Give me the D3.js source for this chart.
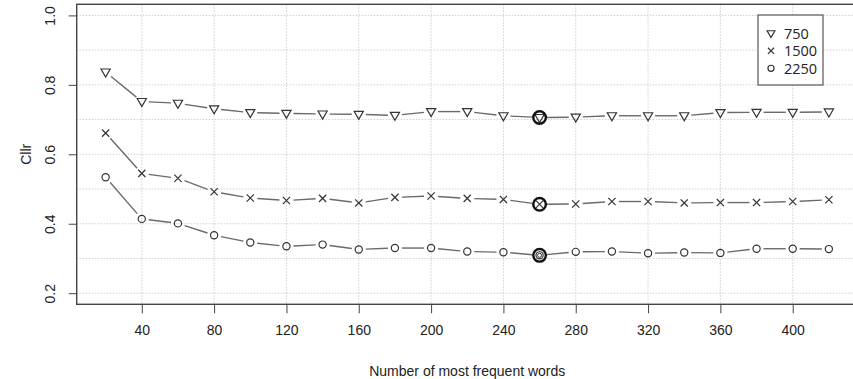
<!DOCTYPE html>
<html>
<head>
<meta charset="utf-8">
<script src="https://cdn.jsdelivr.net/npm/d3@7"></script>
<style>
  html, body { margin: 0; padding: 0; background: #fff; }
  svg { display: block; }
  text { font-family: "Liberation Sans", Arial, sans-serif; fill: #222; }
</style>
</head>
<body>
<svg id="chart" width="853" height="379"></svg>
<script>
// ---- data ----
const nWords = [20, 40, 60, 80, 100, 120, 140, 160, 180, 200, 220, 240, 260, 280, 300, 320, 340, 360, 380, 400, 420];
const s750  = [0.837, 0.752, 0.747, 0.731, 0.720, 0.718, 0.716, 0.715, 0.712, 0.723, 0.723, 0.711, 0.706, 0.707, 0.711, 0.711, 0.711, 0.720, 0.721, 0.721, 0.722];
const s1500 = [0.661, 0.545, 0.531, 0.492, 0.474, 0.467, 0.473, 0.460, 0.476, 0.480, 0.473, 0.470, 0.456, 0.457, 0.464, 0.464, 0.460, 0.461, 0.461, 0.464, 0.469];
const s2250 = [0.534, 0.414, 0.401, 0.367, 0.346, 0.335, 0.340, 0.326, 0.330, 0.330, 0.320, 0.318, 0.309, 0.319, 0.320, 0.315, 0.317, 0.316, 0.328, 0.328, 0.327];
const seriesNames = ["750", "1500", "2250"];
const seriesShapes = ["triangle", "cross", "circle"];
const highlightN = 260;
const xTicks = [40, 80, 120, 160, 200, 240, 280, 320, 360, 400];
const yTicks = [0.2, 0.4, 0.6, 0.8, 1.0];
const xGrid = [40, 80, 120, 160, 200, 240, 280, 320, 360, 400];
const yGrid = [0.2, 0.3, 0.4, 0.5, 0.6, 0.7, 0.8, 0.9, 1.0];
const xLabel = "Number of most frequent words";
const yLabel = "Cllr";

// ---- layout ----
const svg = d3.select("#chart");
const plot = { left: 76.7, right: 857.8, top: 4.3, bottom: 304.3 };
const xLim = [20, 420], yLim = [0.2, 1.0];
const ext = (l) => { const d = (l[1] - l[0]) * 0.04; return [l[0] - d, l[1] + d]; };
const x = d3.scaleLinear().domain(ext(xLim)).range([plot.left, plot.right]);
const y = d3.scaleLinear().domain(ext(yLim)).range([plot.bottom, plot.top]);

// grid
const grid = svg.append("g").attr("stroke", "#cfcfcf").attr("stroke-width", 1).attr("stroke-dasharray", "1.5,1.5");
grid.selectAll("line.v").data(xGrid).join("line")
  .attr("x1", d => x(d)).attr("x2", d => x(d)).attr("y1", plot.top).attr("y2", plot.bottom);
grid.selectAll("line.h").data(yGrid).join("line")
  .attr("y1", d => y(d)).attr("y2", d => y(d)).attr("x1", plot.left).attr("x2", plot.right);

// axes
const xAxis = svg.append("g").attr("transform", `translate(0,${plot.bottom})`)
  .call(d3.axisBottom(x).tickValues(xTicks).tickSize(9).tickPadding(12).tickFormat(d3.format("d")));
xAxis.select(".domain").remove();
xAxis.selectAll("line").attr("stroke", "#444");
xAxis.selectAll("text").style("font-size", "14px").style("font-family", "Liberation Sans, Arial, sans-serif").attr("fill", "#222");

const yAxis = svg.append("g").attr("transform", `translate(${plot.left},0)`)
  .call(d3.axisLeft(y).tickValues(yTicks).tickSize(8).tickFormat(d3.format(".1f")));
yAxis.select(".domain").remove();
yAxis.selectAll("line").attr("stroke", "#444");
yAxis.selectAll("text")
  .attr("transform", "rotate(-90)")
  .attr("x", 0).attr("y", -21.5).attr("dy", 0)
  .style("text-anchor", "middle")
  .style("font-size", "14px").style("font-family", "Liberation Sans, Arial, sans-serif").attr("fill", "#222");

// box
svg.append("rect").attr("x", plot.left).attr("y", plot.top)
  .attr("width", plot.right - plot.left).attr("height", plot.bottom - plot.top)
  .attr("fill", "none").attr("stroke", "#444").attr("stroke-width", 1.4);

// axis titles
svg.append("text").attr("x", (plot.left + plot.right) / 2).attr("y", 375.5)
  .attr("text-anchor", "middle").style("font-size", "14px").text(xLabel);
svg.append("text").attr("transform", `translate(30.5,${(plot.top + plot.bottom) / 2}) rotate(-90)`)
  .attr("text-anchor", "middle").style("font-size", "14px").text(yLabel);

// markers
function drawMarker(g, shape, cx, cy, scale = 1) {
  if (shape === "triangle") {
    const w = 4.6 * scale, h = 4.0 * scale;
    g.append("path").attr("d", `M${cx - w},${cy - h * 0.75}L${cx + w},${cy - h * 0.75}L${cx},${cy + h * 1.25}Z`)
      .attr("fill", "none").attr("stroke", "#333").attr("stroke-width", 1.2);
  } else if (shape === "cross") {
    const s = 3.6 * scale;
    g.append("path").attr("d", `M${cx - s},${cy - s}L${cx + s},${cy + s}M${cx - s},${cy + s}L${cx + s},${cy - s}`)
      .attr("fill", "none").attr("stroke", "#333").attr("stroke-width", 1.2);
  } else {
    g.append("circle").attr("cx", cx).attr("cy", cy).attr("r", 3.6 * scale)
      .attr("fill", "none").attr("stroke", "#333").attr("stroke-width", 1.2);
  }
}

const allSeries = [s750, s1500, s2250];
const gap = 7;
allSeries.forEach((vals, si) => {
  const g = svg.append("g");
  const pts = nWords.map((n, i) => [x(n), y(vals[i])]);
  // lines with gaps (R type = "b")
  for (let i = 0; i < pts.length - 1; i++) {
    const [x0, y0] = pts[i], [x1, y1] = pts[i + 1];
    const dx = x1 - x0, dy = y1 - y0, L = Math.hypot(dx, dy);
    if (L <= 2 * gap) continue;
    const ux = dx / L, uy = dy / L;
    g.append("line")
      .attr("x1", x0 + ux * gap).attr("y1", y0 + uy * gap)
      .attr("x2", x1 - ux * gap).attr("y2", y1 - uy * gap)
      .attr("stroke", "#6a6a6a").attr("stroke-width", 1.4);
  }
  pts.forEach(([px, py], i) => {
    drawMarker(g, seriesShapes[si], px, py);
    if (nWords[i] === highlightN) {
      g.append("circle").attr("cx", px).attr("cy", py).attr("r", 6.3)
        .attr("fill", "none").attr("stroke", "#111").attr("stroke-width", 2.4);
      if (seriesShapes[si] === "circle") {
        g.append("circle").attr("cx", px).attr("cy", py).attr("r", 2)
          .attr("fill", "none").attr("stroke", "#333").attr("stroke-width", 1);
      }
    }
  });
});

// legend
const lg = svg.append("g");
lg.append("rect").attr("x", 758).attr("y", 15).attr("width", 65).attr("height", 70)
  .attr("fill", "#fff").attr("stroke", "#555").attr("stroke-width", 1.2);
seriesNames.forEach((name, i) => {
  const cy = 33.3 + i * 17.5;
  drawMarker(lg, seriesShapes[i], 771, cy, 0.85);
  lg.append("text").attr("x", 784).attr("y", cy + 5.2)
    .style("font-size", "14.5px").style("font-family", "Open Sans, Liberation Sans, sans-serif")
    .text(name);
});
</script>
</body>
</html>
